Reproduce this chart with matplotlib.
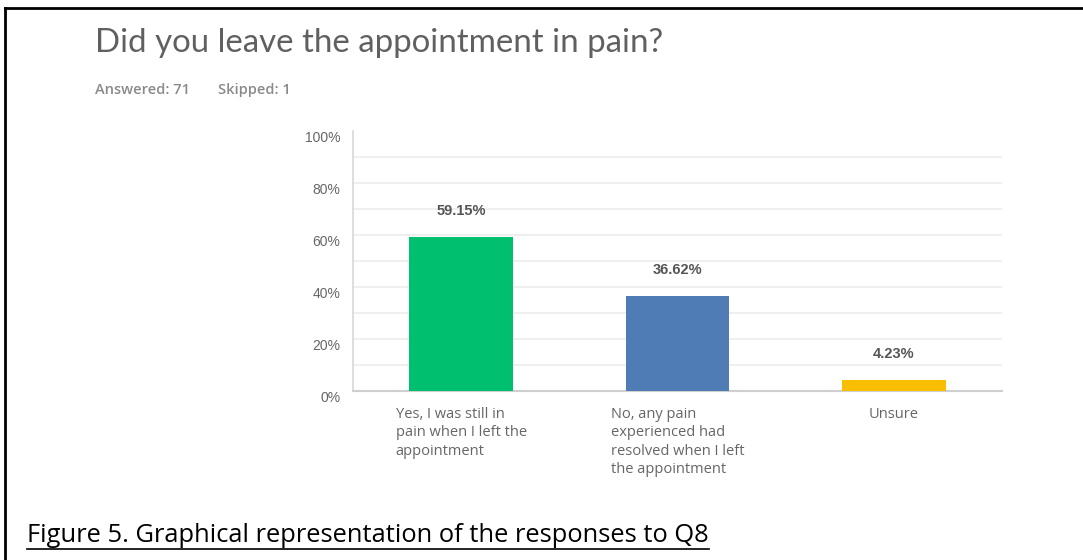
import matplotlib
matplotlib.use("Agg")
import matplotlib.pyplot as plt
import matplotlib.transforms as mtransforms
from matplotlib.lines import Line2D

# Survey Q8 results
categories = [
    "Yes, I was still in\npain when I left the\nappointment",
    "No, any pain\nexperienced had\nresolved when I left\nthe appointment",
    "Unsure",
]
percents = [59.15, 36.62, 4.23]
bar_colors = ["#00bf6f", "#507cb6", "#f9be00"]
ytick_vals = [0, 20, 40, 60, 80, 100]
grid_vals = [10, 20, 30, 40, 50, 60, 70, 80, 90]

title = "Did you leave the appointment in pain?"
answered, skipped = 71, 1
caption = "Figure 5. Graphical representation of the responses to Q8"

fig = plt.figure(figsize=(10.83, 5.60), dpi=100)
fig.patch.set_facecolor("white")

# page border (top and left only)
fig.add_artist(Line2D([5 / 1083, 1.0], [1 - 8 / 560, 1 - 8 / 560],
                      color="black", lw=2, transform=fig.transFigure))
fig.add_artist(Line2D([5 / 1083, 5 / 1083], [0.0, 1 - 8 / 560],
                      color="black", lw=2, transform=fig.transFigure))

fig.text(95 / 1083, 1 - 43 / 560, title, fontsize=23.8, color="#606060",
         family="Lato", va="center", ha="left")
fig.text(95 / 1083, 1 - 90 / 560, f"Answered: {answered}", fontsize=10.5,
         color="#8a8a8a", family="Open Sans", weight="semibold", va="center")
fig.text(218 / 1083, 1 - 90 / 560, f"Skipped: {skipped}", fontsize=10.5,
         color="#8a8a8a", family="Open Sans", weight="semibold", va="center")

ax = fig.add_axes([353 / 1083, 1 - 391 / 560, 649 / 1083, 260 / 560])
x = list(range(len(categories)))
bars = ax.bar(x, percents, width=0.48, color=bar_colors, zorder=3)
ax.set_xlim(-0.5, len(categories) - 0.5)
ax.set_ylim(0, 100)

for v in grid_vals:
    ax.axhline(v, color="#ececec", lw=1.2, zorder=1)

for rect, p in zip(bars, percents):
    ax.annotate(f"{p:.2f}%", (rect.get_x() + rect.get_width() / 2, p),
                xytext=(0, 26), textcoords="offset pixels",
                ha="center", va="center", fontsize=10.5, color="#555555",
                family="Liberation Sans", weight="bold")

for spine in ["top", "right"]:
    ax.spines[spine].set_visible(False)
ax.spines["left"].set_color("#d8d8d8")
ax.spines["bottom"].set_color("#cfcfcf")
ax.spines["left"].set_linewidth(1.2)
ax.spines["bottom"].set_linewidth(1.5)

ax.set_yticks(ytick_vals)
ax.set_yticklabels([f"{v}%" for v in ytick_vals], fontsize=10,
                   color="#666666", family="Liberation Sans")
ax.tick_params(axis="y", length=0, pad=9)
offset = mtransforms.ScaledTranslation(0, -5 / 100, fig.dpi_scale_trans)
for lbl in ax.get_yticklabels():
    lbl.set_transform(lbl.get_transform() + offset)

ax.set_xticks(x)
ax.set_xticklabels([])
ax.tick_params(axis="x", length=0)
for xi, cat in zip(x, categories):
    ax.text(xi, -0.062, cat, transform=ax.get_xaxis_transform(),
            ha="center", va="top", multialignment="left",
            fontsize=10.5, color="#666666", family="Open Sans",
            linespacing=1.3)

cap = fig.text(27 / 1083, 1 - 535 / 560, caption, fontsize=18.4,
               color="black", family="Open Sans", va="center", ha="left")

# underline the caption
fig.canvas.draw()
bb = cap.get_window_extent(renderer=fig.canvas.get_renderer())
uy = (bb.y0 - 1) / fig.bbox.height
fig.add_artist(Line2D([bb.x0 / fig.bbox.width, bb.x1 / fig.bbox.width], [uy, uy],
                      color="black", lw=1.2, transform=fig.transFigure))

fig.savefig("out.png", dpi=100)
